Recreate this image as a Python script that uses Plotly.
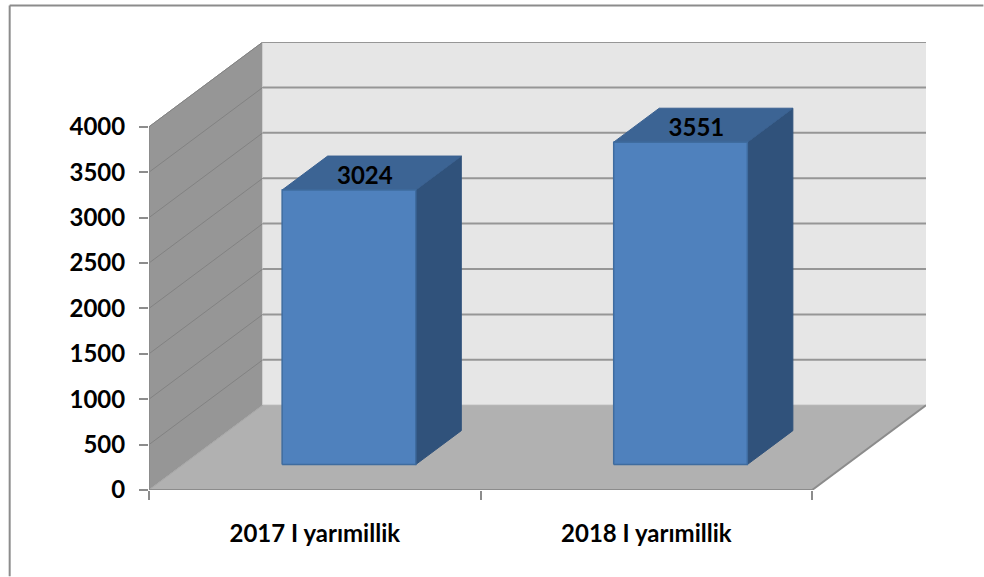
import plotly.graph_objects as go

categories = ["2017 I yarımillik", "2018 I yarımillik"]
values = [3024, 3551]
y_ticks = [0, 500, 1000, 1500, 2000, 2500, 3000, 3500, 4000]
boundaries = [0, 1, 2]

W, H = 984, 577
L, R, T, B = 148.5, 926.5, 41.5, 490.5  # plot rectangle in px
UX = 332.0                            # px per category
UY = 364.0 / 4000                     # px per value unit
DX = 114 / UX                         # full depth offset in x units
DY = 85 / UY                          # full depth offset in y units
BAR_W = 0.403
D0, D1 = 0.3, 0.7

def P(x, y, d=0.0):
    return x + d * DX, y + d * DY

def poly(pts, fill, line=None, lw=1):
    xs = [p[0] for p in pts] + [pts[0][0]]
    ys = [p[1] for p in pts] + [pts[0][1]]
    return go.Scatter(x=xs, y=ys, mode="lines", fill="toself", fillcolor=fill,
                      line=dict(color=line or fill, width=lw), hoverinfo="skip",
                      showlegend=False, cliponaxis=False)

def seg(a, b, color, lw):
    return go.Scatter(x=[a[0], b[0]], y=[a[1], b[1]], mode="lines",
                      line=dict(color=color, width=lw), hoverinfo="skip",
                      showlegend=False, cliponaxis=False)

fig = go.Figure()
ymax, xmax = max(y_ticks), boundaries[-1]

# walls and floor
fig.add_trace(poly([P(0, 0), P(0, ymax), P(0, ymax, 1), P(0, 0, 1)], "#969696"))
fig.add_trace(poly([P(0, 0, 1), P(0, ymax, 1), P(xmax, ymax, 1), P(xmax, 0, 1)], "#e6e6e6"))
fig.add_trace(poly([P(0, 0), P(0, 0, 1), P(xmax, 0, 1), P(xmax, 0)], "#b1b1b1"))

# gridlines
for v in y_ticks[1:]:
    fig.add_trace(seg(P(0, v), P(0, v, 1), "#828282", 1))
    fig.add_trace(seg(P(0, v, 1), P(xmax, v, 1), "#969696", 2))
fig.add_trace(seg(P(0, 0), P(0, 0, 1), "#a8a8a8", 1))
fig.add_trace(seg(P(xmax, 0), P(xmax, 0, 1), "#8c8c8c", 2))

# bars
for i, v in enumerate(values):
    x0, x1 = i + 0.5 - BAR_W / 2, i + 0.5 + BAR_W / 2
    fig.add_trace(poly([P(x1, 0, D0), P(x1, v, D0), P(x1, v, D1), P(x1, 0, D1)], "#30527b", "#30527b"))
    fig.add_trace(poly([P(x0, v, D0), P(x0, v, D1), P(x1, v, D1), P(x1, v, D0)], "#3c6494", "#3a6191"))
    fig.add_trace(poly([P(x0, 0, D0), P(x0, v, D0), P(x1, v, D0), P(x1, 0, D0)], "#4f81bd", "#3f6c9f", 1.5))

# axis lines
fig.add_trace(seg(P(0, 0), P(0, ymax), "#8c8c8c", 2))
fig.add_trace(seg(P(0, 0), P(xmax, 0), "#8c8c8c", 2))

# data labels
lx = [i + 0.5 + 0.44 * DX for i in range(len(values))]
ly = [v + 0.44 * DY for v in values]
fig.add_trace(go.Scatter(x=lx, y=ly, mode="text", text=[str(v) for v in values],
                         textposition="middle center", cliponaxis=False,
                         textfont=dict(family="Lato", size=24, color="#000000", weight=700),
                         hoverinfo="skip", showlegend=False))

x_centres = [i + 0.5 for i in range(len(categories))]
fig.update_xaxes(range=[0, (R - L) / UX], tickmode="array", tickvals=x_centres, ticktext=categories,
                 ticks="outside", ticklen=1, tickcolor="rgba(0,0,0,0)", showgrid=False, zeroline=False,
                 showline=False, ticklabelstandoff=21,
                 tickfont=dict(family="Lato", size=24, color="#000000", weight=700),
                 minor=dict(tickmode="array", tickvals=boundaries, ticks="outside", ticklen=9,
                            tickcolor="#8c8c8c", tickwidth=2, showgrid=False))
fig.update_yaxes(range=[0, (B - T) / UY], tickmode="array", tickvals=y_ticks,
                 ticks="outside", ticklen=9, tickwidth=2, tickcolor="#8c8c8c", showgrid=False,
                 zeroline=False, showline=False, ticklabelstandoff=9,
                 tickfont=dict(family="Lato", size=24, color="#000000", weight=700))

px = lambda v: (v - L) / (R - L)
py = lambda v: (B - v) / (B - T)
border = dict(color="#8c8c8c", width=2)
fig.add_shape(type="line", xref="paper", yref="paper", x0=px(9), x1=px(984), y0=py(5), y1=py(5), line=border)
fig.add_shape(type="line", xref="paper", yref="paper", x0=px(9), x1=px(9), y0=py(5), y1=py(577), line=border)

fig.update_layout(width=W, height=H, autosize=False, paper_bgcolor="#ffffff", plot_bgcolor="#ffffff",
                  margin=dict(l=L, r=W - R, t=T, b=H - B, pad=0), showlegend=False)
fig.write_html("out.html", post_script='document.body.style.margin="0";document.body.style.overflow="hidden";',
               config={"displayModeBar": False})
